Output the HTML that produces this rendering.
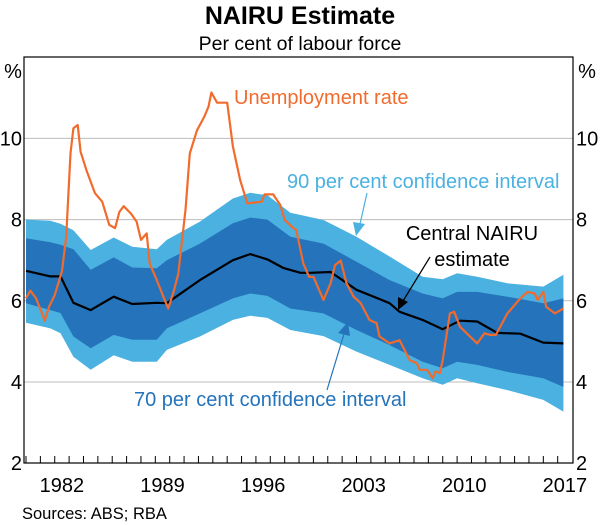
<!DOCTYPE html>
<html><head><meta charset="utf-8"><style>
body{margin:0;background:#fff;}
svg{display:block;font-family:"Liberation Sans",Arial,sans-serif;}
</style></head><body>
<svg id="chart" width="600" height="525" viewBox="0 0 600 525">
<text x="300" y="24" text-anchor="middle" font-size="25" font-weight="bold">NAIRU Estimate</text>
<text x="300" y="50" text-anchor="middle" font-size="19.5">Per cent of labour force</text>
<g id="grid"></g>
<g id="bands"></g>
<g id="lines"></g>
<g id="axes"></g>
<text x="13" y="78" font-size="20" text-anchor="middle">%</text>
<text x="587" y="78" font-size="20" text-anchor="middle">%</text>
<text x="234" y="104" font-size="20" fill="#f26b2d">Unemployment rate</text>
<text x="287" y="188" font-size="20" fill="#4ab1e0">90 per cent confidence interval</text>
<text x="472" y="240" font-size="20" text-anchor="middle">Central NAIRU</text>
<text x="472" y="266" font-size="20" text-anchor="middle">estimate</text>
<text x="134" y="406" font-size="20" fill="#2473bb">70 per cent confidence interval</text>
<g><line x1="367" y1="193" x2="360" y2="224" stroke="#4ab1e0" stroke-width="1.2"/><polygon points="356,236 353,222 365,224" fill="#4ab1e0"/></g>
<g><line x1="430" y1="257" x2="403" y2="301" stroke="#000" stroke-width="1.2"/><polygon points="398,310 398,297 408,302" fill="#000"/></g>
<g><line x1="327" y1="390" x2="344" y2="334" stroke="#2473bb" stroke-width="1.2"/><polygon points="348,322 338,333 350,336" fill="#2473bb"/></g>
<text x="22" y="519" font-size="16.5">Sources:  ABS; RBA</text>
</svg>
<script>
const bandT=[1980.0,1981.7,1982.4,1983.3,1984.5,1986.1,1987.4,1989.1,1989.8,1992.1,1994.4,1995.6,1996.8,1998.4,2000.7,2003.0,2005.3,2007.6,2009.0,2010.0,2011.4,2013.5,2016.0,2017.4];
const ci90Upper=[8.0,7.97,7.9,7.74,7.25,7.56,7.33,7.27,7.5,7.95,8.52,8.66,8.6,8.17,7.99,7.58,7.09,6.59,6.53,6.68,6.59,6.43,6.35,6.64];
const ci70Upper=[7.54,7.44,7.38,7.27,6.76,7.07,6.82,6.8,7.0,7.41,7.91,8.05,8.0,7.58,7.41,6.96,6.51,6.18,6.06,6.22,6.22,6.1,5.94,6.06];
const ci70Lower=[5.94,5.77,5.7,5.12,4.83,5.16,5.04,5.04,5.32,5.69,6.06,6.18,6.12,5.81,5.69,5.28,4.91,4.5,4.34,4.5,4.42,4.25,4.09,3.88];
const ci90Lower=[5.46,5.32,5.2,4.62,4.3,4.66,4.5,4.5,4.79,5.12,5.53,5.63,5.58,5.28,5.13,4.75,4.42,4.09,3.93,4.09,3.97,3.8,3.56,3.27];
const nairuT=[1980.0,1981.7,1982.4,1983.3,1984.5,1986.1,1987.4,1989.1,1989.8,1992.1,1994.4,1995.6,1996.8,1997.9,1999.1,1999.8,2001.2,2003.0,2005.3,2006.0,2007.6,2009.0,2010.2,2011.4,2012.8,2014.4,2016.0,2017.4];
const nairu=[6.74,6.6,6.6,5.95,5.77,6.1,5.92,5.95,5.94,6.51,7.0,7.15,7.02,6.81,6.69,6.69,6.71,6.27,5.94,5.73,5.53,5.3,5.51,5.49,5.21,5.19,4.97,4.95];
const urT=[1980.0,1980.3,1980.7,1981.2,1981.3,1981.6,1982.0,1982.5,1982.8,1983.1,1983.3,1983.6,1983.8,1984.2,1984.8,1985.3,1985.8,1986.2,1986.5,1986.8,1987.3,1987.7,1988.0,1988.4,1988.6,1989.1,1989.6,1989.9,1990.3,1990.6,1991.1,1991.4,1991.9,1992.4,1992.7,1992.9,1993.3,1994.0,1994.4,1994.9,1995.4,1996.4,1996.6,1997.2,1997.7,1998.0,1998.6,1998.8,1999.3,1999.7,2000.0,2000.7,2001.2,2001.5,2001.9,2002.3,2002.8,2003.3,2003.9,2004.4,2004.6,2005.3,2006.0,2006.7,2007.2,2007.4,2007.9,2008.3,2008.5,2008.8,2009.0,2009.5,2009.8,2010.2,2010.9,2011.4,2011.9,2012.3,2012.7,2013.5,2014.4,2014.9,2015.4,2015.6,2016.0,2016.2,2016.8,2017.4];
const urRate=[6.06,6.25,6.06,5.61,5.51,5.85,6.14,6.72,7.58,9.63,10.25,10.33,9.67,9.22,8.65,8.44,7.87,7.79,8.19,8.33,8.15,7.95,7.5,7.66,6.92,6.51,6.06,5.81,6.26,6.67,8.24,9.63,10.2,10.53,10.78,11.13,10.88,10.88,9.8,8.98,8.4,8.44,8.62,8.62,8.36,7.99,7.79,7.75,6.92,6.59,6.59,6.02,6.43,6.88,6.99,6.43,6.1,5.94,5.53,5.45,5.12,4.95,5.03,4.54,4.46,4.3,4.3,4.09,4.26,4.22,4.54,5.69,5.73,5.36,5.12,4.95,5.2,5.16,5.16,5.69,6.06,6.22,6.18,6.02,6.22,5.85,5.69,5.81];
const yTicks=[2,4,6,8,10];
const xLabels=[1982,1989,1996,2003,2010,2017];

const L=24,R=573,T=57,B=463;
const xS=t=>26+(t-1980)*14.37;
const yS=v=>382-(v-4)*40.6;
const NS="http://www.w3.org/2000/svg";
function mk(tag,parent,attrs){const e=document.createElementNS(NS,tag);for(const k in attrs)e.setAttribute(k,attrs[k]);parent.appendChild(e);return e;}
const grid=document.getElementById('grid'),bands=document.getElementById('bands'),lines=document.getElementById('lines'),axes=document.getElementById('axes');
yTicks.forEach(v=>{
  if(v>2){const g=mk('line',grid,{x1:L,x2:R,y1:yS(v),y2:yS(v),stroke:'#bdbdbd','stroke-width':1});
  
  }
  const a=mk('text',axes,{x:L-2,y:yS(v)+7,'text-anchor':'end','font-size':20});a.textContent=v;
  
  
  const b=mk('text',axes,{x:R+3,y:yS(v)+7,'font-size':20});b.textContent=v;
  
  
});
function bandPath(up,lo){let d='';bandT.forEach((t,i)=>{d+=(i?'L':'M')+xS(t).toFixed(1)+','+yS(up[i]).toFixed(1);});for(let i=bandT.length-1;i>=0;i--)d+='L'+xS(bandT[i]).toFixed(1)+','+yS(lo[i]).toFixed(1);return d+'Z';}
const b90=mk('path',bands,{d:bandPath(ci90Upper,ci90Lower),fill:'#4ab1e0'});


const b70=mk('path',bands,{d:bandPath(ci70Upper,ci70Lower),fill:'#2473bb'});


function linePath(ts,vs){return ts.map((t,i)=>(i?'L':'M')+xS(t).toFixed(1)+','+yS(vs[i]).toFixed(1)).join('');}
const nl=mk('path',lines,{d:linePath(nairuT,nairu),fill:'none',stroke:'#000','stroke-width':2.2,'stroke-linejoin':'round'});


const ul=mk('path',lines,{d:linePath(urT,urRate),fill:'none',stroke:'#f26b2d','stroke-width':2.2,'stroke-linejoin':'round'});


const fr=mk('rect',axes,{x:L,y:T,width:R-L,height:B-T,fill:'none',stroke:'#000','stroke-width':1.2});


for(let y=1980;y<=2017;y++){const tk=mk('line',axes,{x1:xS(y),x2:xS(y),y1:B,y2:B-7,stroke:'#000','stroke-width':1});

}
xLabels.forEach(yr=>{const t=mk('text',axes,{x:xS(yr+0.5),y:B+29,'text-anchor':'middle','font-size':20});t.textContent=yr;

});
</script>
</body></html>
